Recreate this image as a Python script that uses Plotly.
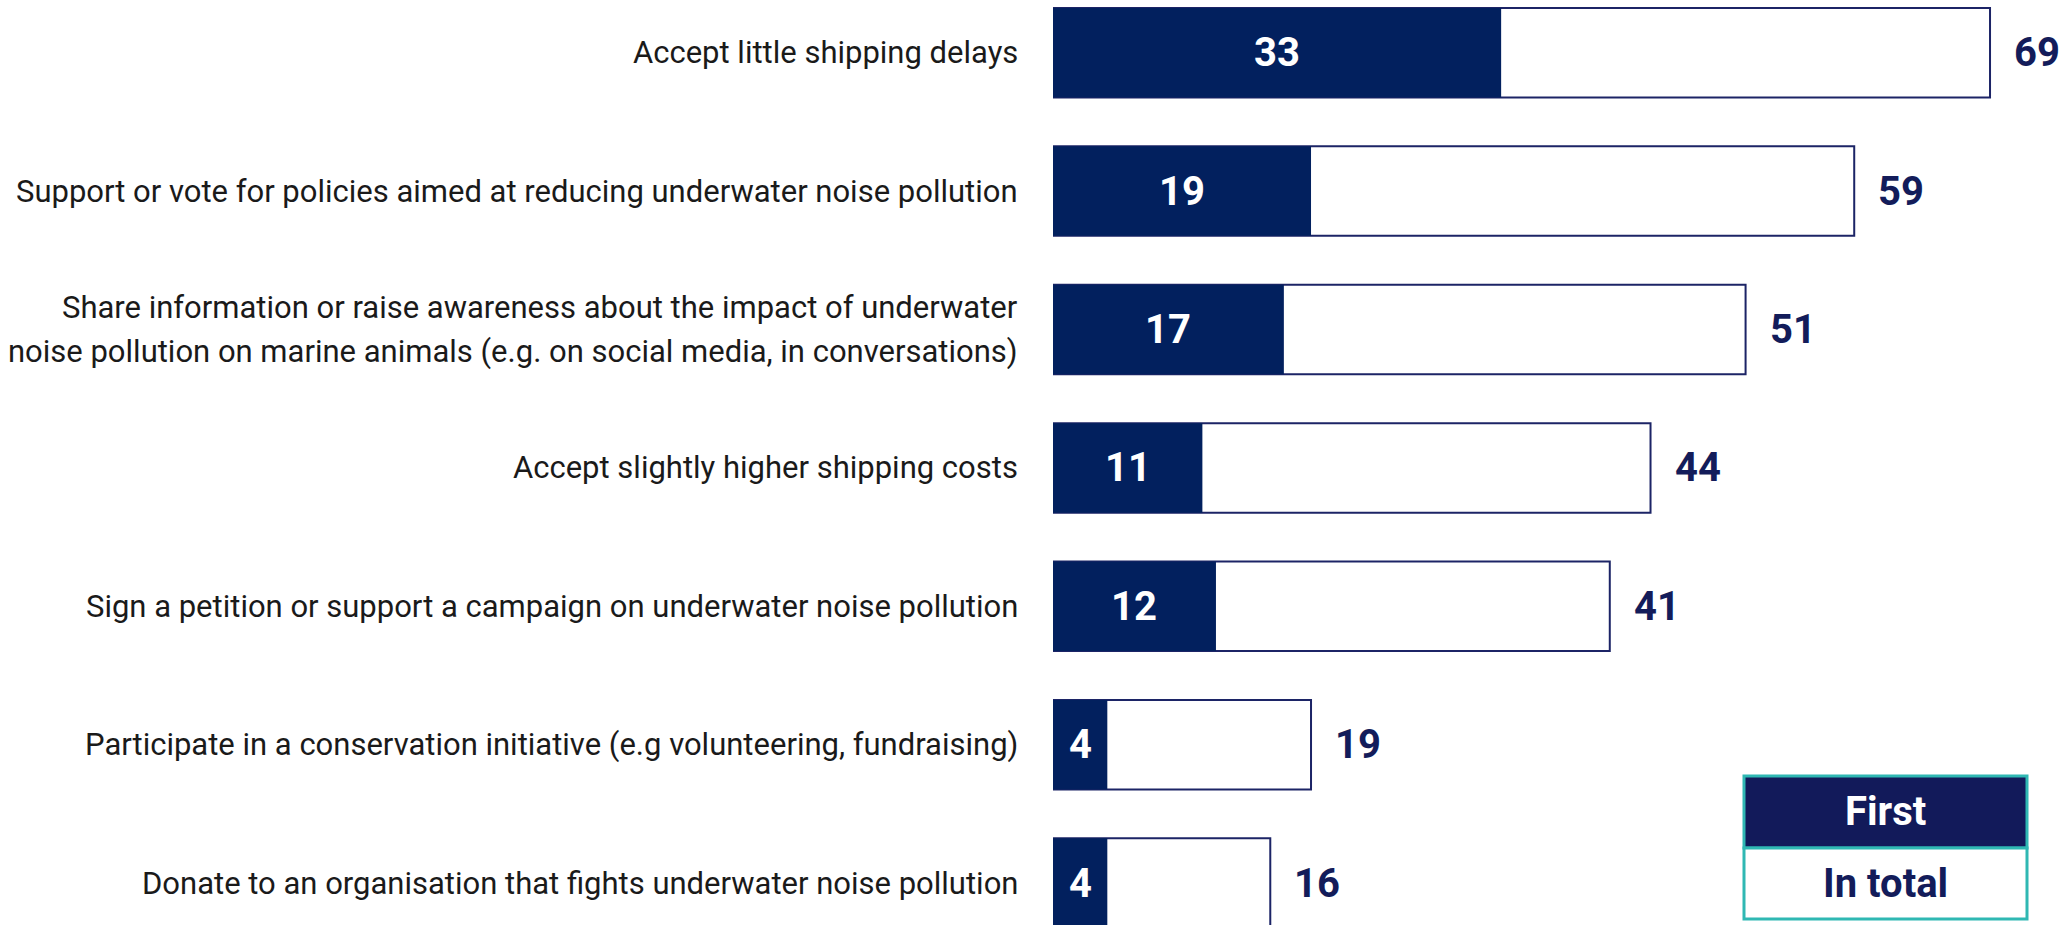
import plotly.graph_objects as go

categories = [
    "Accept little shipping delays",
    "Support or vote for policies aimed at reducing underwater noise pollution",
    "Share information or raise awareness about the impact of underwater<br>noise pollution on marine animals (e.g. on social media, in conversations)",
    "Accept slightly higher shipping costs",
    "Sign a petition or support a campaign on underwater noise pollution",
    "Participate in a conservation initiative (e.g volunteering, fundraising)",
    "Donate to an organisation that fights underwater noise pollution",
]
first_values = [33, 19, 17, 11, 12, 4, 4]
total_values = [69, 59, 51, 44, 41, 19, 16]
legend_labels = ["First", "In total"]

NAVY = "#02205e"
TEXT_NAVY = "#131c5a"
OUTLINE = "#1c2466"
TEAL = "#2fb8b3"

W, H = 2067, 925
L = 1053
px_per_unit = 13.58
y0 = 52.7
step = 138.4

ys = list(range(len(categories)))

fig = go.Figure()
fig.add_trace(go.Bar(
    y=ys, x=total_values, orientation="h",
    marker=dict(color="white", line=dict(color=OUTLINE, width=2)),
    width=0.647, hoverinfo="skip", showlegend=False,
))
fig.add_trace(go.Bar(
    y=ys, x=first_values, orientation="h",
    marker=dict(color=NAVY, line=dict(width=0)),
    width=0.647, hoverinfo="skip", showlegend=False,
))

annotations = []
for i, (cat, f, t) in enumerate(zip(categories, first_values, total_values)):
    lines = cat.split("<br>")
    n = len(lines)
    for k, line in enumerate(lines):
        shift = (-(k - (n - 1) / 2)) * 43.5
        annotations.append(dict(
            x=0, y=i, xref="x", yref="y", text=line, showarrow=False,
            xanchor="right", yanchor="middle", xshift=-33, yshift=shift,
            font=dict(family="Roboto", size=31, color="#1a1a1a"),
        ))
    annotations.append(dict(
        x=f / 2, y=i, xref="x", yref="y", text=str(f), showarrow=False,
        xanchor="center", yanchor="middle",
        font=dict(family="Roboto", size=40, color="white", weight="bold"),
    ))
    annotations.append(dict(
        x=t, y=i, xref="x", yref="y", text=str(t), showarrow=False,
        xanchor="left", yanchor="middle", xshift=22,
        font=dict(family="Roboto", size=40, color=TEXT_NAVY, weight="bold"),
    ))

# Legend box (pixel -> paper)
def px_x(x):
    return (x - L) / (W - L)

def px_y(y):
    return 1 - y / H

lx0, lx1 = px_x(1744), px_x(2027)
ly_top, ly_mid, ly_bot = px_y(776), px_y(848), px_y(919)
shapes = [
    dict(type="rect", xref="paper", yref="paper", x0=lx0, x1=lx1, y0=ly_mid, y1=ly_top,
         fillcolor="#121a5a", line=dict(color=TEAL, width=3), layer="above"),
    dict(type="rect", xref="paper", yref="paper", x0=lx0, x1=lx1, y0=ly_bot, y1=ly_mid,
         fillcolor="white", line=dict(color=TEAL, width=3), layer="above"),
]
annotations.append(dict(
    x=(lx0 + lx1) / 2, y=(ly_mid + ly_top) / 2, xref="paper", yref="paper",
    text=legend_labels[0], showarrow=False, xanchor="center", yanchor="middle",
    font=dict(family="Roboto", size=40, color="white", weight="bold"),
))
annotations.append(dict(
    x=(lx0 + lx1) / 2, y=(ly_bot + ly_mid) / 2, xref="paper", yref="paper",
    text=legend_labels[1], showarrow=False, xanchor="center", yanchor="middle",
    font=dict(family="Roboto", size=40, color=TEXT_NAVY, weight="bold"),
))

fig.update_layout(
    width=W, height=H,
    margin=dict(l=L, r=0, t=0, b=0),
    paper_bgcolor="white", plot_bgcolor="white",
    barmode="overlay",
    xaxis=dict(range=[0, (W - L) / px_per_unit], visible=False, fixedrange=True),
    yaxis=dict(range=[(H - y0) / step, -y0 / step], visible=False, fixedrange=True),
    annotations=annotations, shapes=shapes,
    showlegend=False,
)

fig.write_html(
    "out.html",
    config={"displayModeBar": False},
    post_script="document.body.style.margin='0';document.body.style.overflow='hidden';"
                "document.documentElement.style.overflow='hidden';",
)
